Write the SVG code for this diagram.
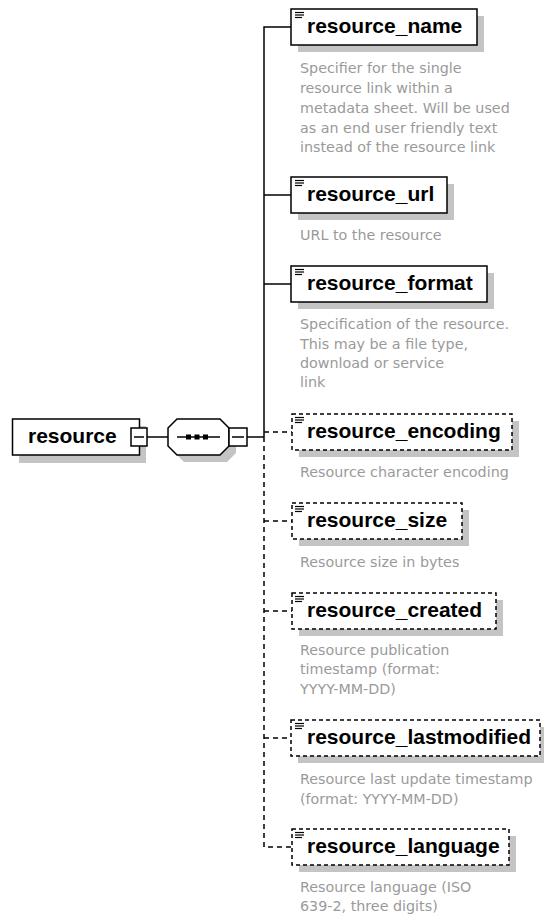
<svg xmlns="http://www.w3.org/2000/svg" width="544" height="915" viewBox="0 0 544 915">
<style>
.shadow{fill:#c4c4c4;stroke:none}
.box{fill:#fff;stroke:#000;stroke-width:1.5}
.opt{fill:#fff;stroke:#000;stroke-width:1.5;stroke-dasharray:4,3}
.name{font-family:"Liberation Sans",Arial,sans-serif;font-weight:bold;font-size:21px;fill:#000}
.desc{font-family:"DejaVu Sans",Verdana,sans-serif;font-size:14.3px;fill:#9a9a9a}
.ln{stroke:#000;stroke-width:1.5;fill:none}
.dl{stroke:#000;stroke-width:1.5;fill:none;stroke-dasharray:5,4}
.icon{stroke:#000;stroke-width:1.2}
</style>
<defs>
<g id="ico"><line class="icon" x1="0" y1="0.5" x2="9" y2="0.5"/><line class="icon" x1="0" y1="3" x2="9" y2="3"/><line class="icon" x1="0" y1="5.5" x2="7" y2="5.5"/></g>
</defs>
<g id="connectors">
<line class="ln" x1="147" y1="437" x2="168" y2="437"/>
<line class="ln" x1="247" y1="437" x2="264" y2="437"/>
<polyline class="ln" points="291,27 264,27 264,437"/>
<line class="ln" x1="264" y1="195" x2="291" y2="195"/>
<line class="ln" x1="264" y1="284" x2="291" y2="284"/>
<polyline class="dl" points="264,437 264,847 292,847"/>
<line class="dl" x1="264" y1="432" x2="292" y2="432"/>
<line class="dl" x1="264" y1="521" x2="292" y2="521"/>
<line class="dl" x1="264" y1="611" x2="292" y2="611"/>
<line class="dl" x1="264" y1="738" x2="291" y2="738"/>
</g>
<g id="resource">
<rect class="shadow" x="19" y="426" width="127" height="37"/>
<rect class="box" x="12.5" y="419" width="127" height="36"/>
<text class="name" x="28" y="443">resource</text>
<rect class="box" x="131" y="428" width="16" height="18"/>
<line class="ln" x1="134" y1="437" x2="144" y2="437"/>
</g>
<g id="sequence">
<polygon class="shadow" points="175,434 184,426 227,426 236,434 236,453 227,462 184,462 175,453"/>
<polygon class="box" points="168,428 177,419 220,419 229,428 229,446 220,455 177,455 168,446"/>
<line class="ln" x1="177" y1="437" x2="220" y2="437"/>
<rect x="186" y="434.5" width="5" height="5" fill="#000"/>
<rect x="194.5" y="434.5" width="5" height="5" fill="#000"/>
<rect x="203" y="434.5" width="5" height="5" fill="#000"/>
<rect class="box" x="229" y="428" width="18" height="18"/>
<line class="ln" x1="232" y1="437" x2="244" y2="437"/>
</g>
<g id="resource_name">
<rect class="shadow" x="298" y="16" width="186" height="36"/>
<rect class="box" x="291" y="9" width="186" height="36"/>
<use href="#ico" x="295" y="12"/>
<text class="name" x="307" y="33">resource_name</text>
<text class="desc" x="300" y="73">Specifier for the single</text>
<text class="desc" x="300" y="93">resource link within a</text>
<text class="desc" x="300" y="113">metadata sheet. Will be used</text>
<text class="desc" x="300" y="133">as an end user friendly text</text>
<text class="desc" x="300" y="152">instead of the resource link</text>
</g>
<g id="resource_url">
<rect class="shadow" x="298" y="184" width="156" height="36"/>
<rect class="box" x="291" y="177" width="156" height="36"/>
<use href="#ico" x="295" y="180"/>
<text class="name" x="307" y="201">resource_url</text>
<text class="desc" x="300" y="240">URL to the resource</text>
</g>
<g id="resource_format">
<rect class="shadow" x="298" y="273" width="196" height="36"/>
<rect class="box" x="291" y="266" width="196" height="36"/>
<use href="#ico" x="295" y="269"/>
<text class="name" x="307" y="290">resource_format</text>
<text class="desc" x="300" y="329">Specification of the resource.</text>
<text class="desc" x="300" y="349">This may be a file type,</text>
<text class="desc" x="300" y="368">download or service</text>
<text class="desc" x="300" y="387">link</text>
</g>
<g id="resource_encoding">
<rect class="shadow" x="299" y="421" width="220" height="36"/>
<rect class="opt" x="292" y="414" width="220" height="36"/>
<use href="#ico" x="295" y="417"/>
<text class="name" x="307" y="438">resource_encoding</text>
<text class="desc" x="300" y="477">Resource character encoding</text>
</g>
<g id="resource_size">
<rect class="shadow" x="299" y="510" width="170" height="36"/>
<rect class="opt" x="292" y="503" width="170" height="36"/>
<use href="#ico" x="295" y="506"/>
<text class="name" x="307" y="527">resource_size</text>
<text class="desc" x="300" y="567">Resource size in bytes</text>
</g>
<g id="resource_created">
<rect class="shadow" x="299" y="600" width="204" height="36"/>
<rect class="opt" x="292" y="593" width="204" height="36"/>
<use href="#ico" x="295" y="596"/>
<text class="name" x="307" y="617">resource_created</text>
<text class="desc" x="300" y="655">Resource publication</text>
<text class="desc" x="300" y="674">timestamp (format:</text>
<text class="desc" x="300" y="694">YYYY-MM-DD)</text>
</g>
<g id="resource_lastmodified">
<rect class="shadow" x="298" y="727" width="249" height="36"/>
<rect class="opt" x="291" y="720" width="249" height="36"/>
<use href="#ico" x="295" y="723"/>
<text class="name" x="307" y="744">resource_lastmodified</text>
<text class="desc" x="300" y="784">Resource last update timestamp</text>
<text class="desc" x="300" y="804">(format: YYYY-MM-DD)</text>
</g>
<g id="resource_language">
<rect class="shadow" x="299" y="836" width="217" height="36"/>
<rect class="opt" x="292" y="829" width="217" height="36"/>
<use href="#ico" x="295" y="832"/>
<text class="name" x="307" y="853">resource_language</text>
<text class="desc" x="300" y="892">Resource language (ISO</text>
<text class="desc" x="300" y="911">639-2, three digits)</text>
</g>
</svg>
